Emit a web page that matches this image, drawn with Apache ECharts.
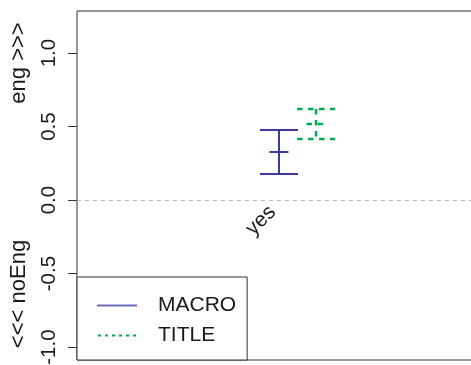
<!DOCTYPE html>
<html>
<head>
<meta charset="utf-8">
<script src="https://cdn.jsdelivr.net/npm/echarts@6/dist/echarts.min.js"></script>
<style>
  html, body { margin: 0; padding: 0; background: #ffffff; }
  #chart { width: 471px; height: 365px; }
</style>
</head>
<body>
<div id="chart"></div>
<script>
// Interval estimates per category: lower bound, point estimate, upper bound
const categories = ['yes'];
const macroLower = [0.177];
const macroMean = [0.327];
const macroUpper = [0.476];
const titleLower = [0.415];
const titleMean = [0.517];
const titleUpper = [0.619];
const seriesNames = ['MACRO', 'TITLE'];
const yTicks = [-1.0, -0.5, 0.0, 0.5, 1.0];
const yNames = ['eng >>>', '<<< noEng'];

const FONT = "'Liberation Sans', Arial, Helvetica, sans-serif";
const BLUE = '#3a3aa0';
const GREEN = '#00aa50';
const INK = '#1a1a1a';

function rows(lower, mean, upper) {
  return categories.map((c, i) => [i, lower[i], mean[i], upper[i]]);
}

// Error bar: vertical whisker, end caps and a short tick at the estimate
function errorBar(offsetFrac, color, width, dash) {
  return function (params, api) {
    const c = api.value(0);
    const band = api.size([1, 0])[0];
    const pLo = api.coord([c, api.value(1)]);
    const pMid = api.coord([c, api.value(2)]);
    const pHi = api.coord([c, api.value(3)]);
    const x = pLo[0] + offsetFrac * band;
    const cap = 19, tick = 9.5;
    const style = { stroke: color, lineWidth: width, lineDash: dash, fill: null };
    const seg = (x1, y1, x2, y2) => ({ type: 'line', shape: { x1, y1, x2, y2 }, style });
    return {
      type: 'group',
      children: [
        seg(x, pHi[1], x, pLo[1]),
        seg(x - cap, pHi[1], x + cap, pHi[1]),
        seg(x - cap, pLo[1], x + cap, pLo[1]),
        seg(x - tick, pMid[1], x + tick, pMid[1])
      ]
    };
  };
}

const chart = echarts.init(document.getElementById('chart'), null, { renderer: 'canvas' });

chart.setOption({
  animation: false,
  backgroundColor: '#ffffff',
  textStyle: { fontFamily: FONT },
  grid: {
    left: 77, right: -47, top: 11, bottom: 5,
    show: true, borderColor: '#333333', borderWidth: 1,
    backgroundColor: 'transparent',
    containLabel: false, outerBoundsMode: 'none'
  },
  xAxis: {
    type: 'category',
    data: categories,
    boundaryGap: true,
    axisLine: { show: false },
    axisTick: { show: false },
    axisLabel: { show: false },
    splitLine: { show: false }
  },
  yAxis: {
    type: 'value',
    min: -1.088,
    max: 1.286,
    axisLine: { show: false },
    splitLine: { show: false },
    axisTick: {
      show: true, length: 9, inside: false,
      lineStyle: { color: '#333333', width: 1 },
      customValues: yTicks
    },
    axisLabel: {
      customValues: yTicks,
      rotate: 90,
      margin: 17,
      fontSize: 20.5,
      fontFamily: FONT,
      color: INK,
      formatter: v => v.toFixed(1)
    }
  },
  legend: {
    left: 77, bottom: 5,
    orient: 'vertical',
    backgroundColor: '#ffffff',
    borderColor: '#333333', borderWidth: 1, borderRadius: 0,
    padding: [18, 11, 14, 20],
    itemWidth: 40, itemHeight: 2, itemGap: 9,
    selectedMode: false,
    textStyle: { fontSize: 21, fontFamily: FONT, color: INK, padding: [0, 0, 0, 16], lineHeight: 20 },
    data: [
      {
        name: seriesNames[0],
        icon: 'path://M0,0H40V2H0Z',
        itemStyle: { color: '#6a6ac0', borderWidth: 0 }
      },
      {
        name: seriesNames[1],
        icon: 'path://M0,0h3v2h-3z M7,0h3v2h-3z M14,0h3v2h-3z M21,0h3v2h-3z M28,0h3v2h-3z M35,0h3v2h-3z',
        itemStyle: { color: GREEN, borderWidth: 0 }
      }
    ]
  },
  graphic: [
    {
      type: 'text', x: 19, y: 63, rotation: Math.PI / 2,
      style: { text: yNames[0], align: 'center', verticalAlign: 'middle', fontSize: 22, fontFamily: FONT, fill: INK }
    },
    {
      type: 'text', x: 19, y: 294, rotation: Math.PI / 2,
      style: { text: yNames[1], align: 'center', verticalAlign: 'middle', fontSize: 22, fontFamily: FONT, fill: INK }
    }
  ],
  series: [
    {
      name: seriesNames[0],
      type: 'custom',
      itemStyle: { color: BLUE },
      encode: { x: 0, y: [1, 2, 3] },
      data: rows(macroLower, macroMean, macroUpper),
      renderItem: errorBar(-0.042, BLUE, 2, null),
      markLine: {
        silent: true,
        symbol: ['none', 'none'],
        label: { show: false },
        lineStyle: { color: '#bbbbbb', type: [4, 4], width: 1 },
        data: [{ yAxis: 0 }]
      },
      z: 3
    },
    {
      name: seriesNames[1],
      type: 'custom',
      itemStyle: { color: GREEN },
      encode: { x: 0, y: [1, 2, 3] },
      data: rows(titleLower, titleMean, titleUpper),
      renderItem: errorBar(0.042, GREEN, 2.5, [5.5, 5.5]),
      z: 3
    },
    {
      name: 'categoryLabels',
      type: 'custom',
      silent: true,
      encode: { x: 0 },
      data: categories.map((c, i) => [i]),
      renderItem: function (params, api) {
        const p = api.coord([api.value(0), 0]);
        return {
          type: 'text',
          x: p[0] - 25, y: p[1] + 9,
          rotation: Math.PI / 4,
          style: {
            text: categories[params.dataIndex],
            align: 'right', verticalAlign: 'middle',
            fontSize: 21, fontFamily: FONT, fill: INK
          }
        };
      },
      z: 4
    }
  ]
});
</script>
</body>
</html>
